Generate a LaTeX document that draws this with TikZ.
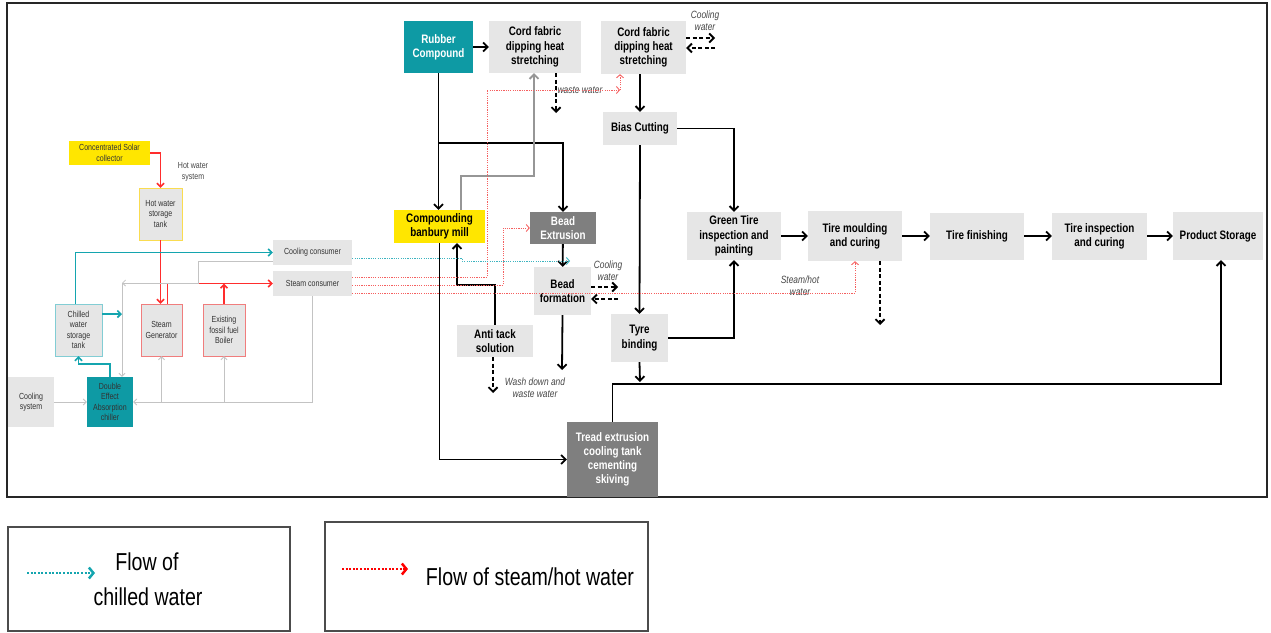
\documentclass[tikz,border=0pt]{standalone}
\usepackage{fontspec}
\setmainfont[FakeStretch=0.8]{Liberation Sans}
\usetikzlibrary{arrows.meta}

\definecolor{boxgray}{RGB}{230,230,230}
\definecolor{darkbox}{RGB}{127,127,127}
\definecolor{tealbox}{RGB}{14,154,164}
\definecolor{solaryellow}{RGB}{255,230,0}
\definecolor{chillteal}{RGB}{20,165,175}
\definecolor{hotred}{RGB}{255,45,45}
\definecolor{dotred}{RGB}{245,95,95}
\definecolor{dotteal}{RGB}{60,180,192}
\definecolor{pipegray}{RGB}{195,195,195}
\definecolor{feedgray}{RGB}{150,150,150}
\definecolor{notegray}{RGB}{70,70,70}
\definecolor{tankteal}{RGB}{130,205,212}
\definecolor{tankred}{RGB}{240,125,125}
\definecolor{tankyellow}{RGB}{250,220,80}

\newcommand{\procfont}{\fontsize{12.3}{14.2}\selectfont\bfseries}
\newcommand{\plantfont}{\fontsize{8.8}{10.5}\selectfont}
\newcommand{\notefont}{\fontsize{10.5}{12}\selectfont\itshape}
\newcommand{\legfont}{\fontsize{24.5}{34}\selectfont}

\begin{document}
\begin{tikzpicture}[x=1pt,y=-1pt,
    >={Straight Barb[length=4.5pt,width=9pt]},
    sz/.style 2 args={minimum width=#1pt,minimum height=#2pt},
    proc/.style={rectangle,fill=boxgray,align=center,inner sep=1pt,font=\procfont},
    plant/.style={rectangle,fill=boxgray,align=center,inner sep=1pt,font=\plantfont,text=black!80},
    note/.style={align=center,inner sep=0pt,font=\notefont,text=notegray},
    flow/.style={->,line width=1.8pt,black},
    drain/.style={->,line width=1.8pt,black,dash pattern=on 4pt off 2.5pt},
    feed/.style={->,line width=1.8pt,feedgray},
    hot/.style={->,line width=1.6pt,hotred,>={Straight Barb[length=3.5pt,width=7pt]}},
    chill/.style={->,line width=1.6pt,chillteal,>={Straight Barb[length=3.5pt,width=7pt]}},
    pipe/.style={->,line width=0.8pt,pipegray,>={Straight Barb[length=3pt,width=6pt]}},
    steamdot/.style={->,line width=0.9pt,dotred,dash pattern=on 1.2pt off 1.1pt,>={Straight Barb[length=3pt,width=7pt]}},
    chilldot/.style={->,line width=0.9pt,dotteal,dash pattern=on 1.2pt off 1.1pt,>={Straight Barb[length=3pt,width=7pt]}},
    legbox/.style={draw=black!70,line width=2.5pt,inner sep=0pt},
    legtext/.style={inner sep=0pt,font=\legfont},
    legarrow/.style={->,line width=2.5pt,dash pattern=on 2pt off 1.6pt,>={Straight Barb[length=4.5pt,width=11pt]}}]

  \useasboundingbox (0,0) rectangle (1271,632);
  \draw[line width=2.5pt,black!85] (7,3) rectangle (1267,497);

  % process line
  \begin{scope}[every node/.style={proc}]
    \node[fill=tealbox,text=white,sz={69}{52}] (rubber) at (438.5,47) {Rubber\\Compound};
    \node[sz={92}{52}] (cordA) at (535,47) {Cord fabric\\dipping heat\\stretching};
    \node[sz={85}{53}] (cordB) at (643.5,47.5) {Cord fabric\\dipping heat\\stretching};
    \node[sz={74}{33}] (bias) at (640,128.5) {Bias Cutting};
    \node[fill=solaryellow,sz={91}{33}] (comp) at (439.5,226.5) {Compounding\\banbury mill};
    \node[fill=darkbox,text=white,sz={66}{32}] (beadext) at (563,228) {Bead\\Extrusion};
    \node[sz={57}{48}] (beadform) at (562.5,291) {Bead\\formation};
    \node[sz={76}{32}] (anti) at (495,341) {Anti tack\\solution};
    \node[sz={57}{48}] (tyre) at (639.5,338) {Tyre\\binding};
    \node[fill=darkbox,text=white,sz={91}{75}] (tread) at (612.5,459.5) {Tread extrusion\\cooling tank\\cementing\\skiving};
    \node[sz={94}{48}] (green) at (734,236) {Green Tire\\inspection and\\painting};
    \node[sz={94}{50}] (mould) at (855,236) {Tire moulding\\and curing};
    \node[sz={94}{47}] (finish) at (977,236) {Tire finishing};
    \node[sz={95}{47}] (inspect) at (1099.5,236) {Tire inspection\\and curing};
    \node[sz={90}{48}] (store) at (1218,236) {Product Storage};
  \end{scope}

  % utility plant
  \begin{scope}[every node/.style={plant}]
    \node[fill=solaryellow,sz={81}{24}] (solar) at (109.5,153) {Concentrated Solar\\collector};
    \node[draw=tankyellow,sz={43}{52}] (hwtank) at (160.5,214) {Hot water\\storage\\tank};
    \node[sz={79}{25}] (coolcons) at (312.5,252.5) {Cooling consumer};
    \node[sz={79}{25}] (steamcons) at (312.5,283.5) {Steam consumer};
    \node[draw=tankteal,sz={47}{52}] (chtank) at (78.5,330) {Chilled\\water\\storage\\tank};
    \node[draw=tankred,sz={41}{52}] (steamgen) at (161.5,330) {Steam\\Generator};
    \node[draw=tankred,sz={42}{52}] (boiler) at (224,330) {Existing\\fossil fuel\\Boiler};
    \node[sz={46}{50}] (coolsys) at (31,402) {Cooling\\system};
    \node[fill=tealbox,sz={46}{50}] (chiller) at (110,402) {Double\\Effect\\Absorption\\chiller};
  \end{scope}

  % labels
  \begin{scope}[every node/.style={note}]
    \node (cwlabA) at (705,21) {Cooling\\water};
    \node (wastelab) at (580,90) {waste water};
    \node (cwlabB) at (608,271) {Cooling\\water};
    \node (washlab) at (535,388) {Wash down and\\waste water};
    \node (steamlab) at (800,286) {Steam/hot\\water};
  \end{scope}
  \node[align=center,inner sep=0pt,font=\plantfont,text=notegray] (hwlab) at (193,172) {Hot water\\system};

  \coordinate (j1) at (439,143);
  \coordinate (j2) at (457,285);
  \coordinate (j3) at (1221,384);
  \coordinate (j4a) at (461,176);
  \coordinate (j4) at (534,176);
  \coordinate (washend) at (562,370);
  \coordinate (tyreend) at (640,382);
  \coordinate (wasteend) at (556,113);
  \coordinate (antiend) at (493,393);
  \coordinate (mouldend) at (880,325);
  \coordinate (cwA1) at (715,38);
  \coordinate (cwA2) at (715,48);
  \coordinate (cwB1) at (618,287);
  \coordinate (cwB2) at (618,299);
  \coordinate (s1) at (487,90);
  \coordinate (s1b) at (620,90);
  \coordinate (s2) at (503,228);
  \coordinate (c1) at (462,261);
  \coordinate (c1end) at (570,261);
  \coordinate (c2) at (122,314);
  \coordinate (c3) at (78.5,364);
  \coordinate (g1) at (198,283);
  \coordinate (g2) at (122,283);

  % main flow
  \draw[flow] (rubber) -- (cordA);
  \draw[flow] (bias.north |- cordB.south) -- (bias.north);
  \draw[flow] (rubber.south) -- (rubber.south |- comp.north);
  \draw[flow] (j1) -| (beadext.north);
  \draw[flow] (comp.south) |- (tread.west);
  \draw[flow] (anti.north) |- (j2) -- (j2 |- comp.south);
  \draw[flow] (beadext) -- (beadform);
  \draw[flow] (beadform.south) -- (washend);
  \draw[flow] (bias.south) -- (tyre.north);
  \draw[flow] (bias.east) -| (green.north);
  \draw[flow] (tyre.east) -| (green.south);
  \draw[flow] (green) -- (mould);
  \draw[flow] (mould) -- (finish);
  \draw[flow] (finish) -- (inspect);
  \draw[flow] (inspect) -- (store);
  \draw[flow] (tyre.south) -- (tyreend);
  \draw[flow] (tread.north) |- (j3) -- (j3 |- store.south);
  \draw[feed] (j4a |- comp.north) |- (j4) -- (j4 |- cordA.south);

  % discharges
  \draw[drain] (wasteend |- cordA.south) -- (wasteend);
  \draw[drain] (cordB.east |- cwA1) -- (cwA1);
  \draw[drain] (cwA2) -- (cordB.east |- cwA2);
  \draw[drain] (beadform.east |- cwB1) -- (cwB1);
  \draw[drain] (cwB2) -- (beadform.east |- cwB2);
  \draw[drain] (antiend |- anti.south) -- (antiend);
  \draw[drain] (mouldend |- mould.south) -- (mouldend);

  % steam / chilled water supply
  \draw[steamdot] ([yshift=6.5pt]steamcons.east) -| (s1) -- (s1b);
  \draw[steamdot] (s1b) -- (s1b |- cordB.south);
  \draw[steamdot] ([yshift=-1.5pt]steamcons.east) -| (s2) -- (beadext.west);
  \draw[steamdot] ([yshift=-9.5pt]steamcons.east) -| (mould.south);
  \draw[chilldot] ([yshift=-5.5pt]coolcons.east) -| (c1) -- (c1end);

  % plant
  \draw[hot] (solar) -| (hwtank);
  \draw[hot] (hwtank.south) -- (hwtank.south |- steamgen.north);
  \draw[hot] ([xshift=6pt]steamgen.north) |- (steamcons.west);
  \draw[hot] (boiler.north) -- (boiler.north |- steamcons.west);
  \draw[chill] ([xshift=-3pt]chtank.north) |- (coolcons.west);
  \draw[chill] ([yshift=16pt]chtank.east) -- (c2);
  \draw[chill] (chiller.north) |- (c3) -- (chtank.south);
  \draw[pipe] ([yshift=-9pt]coolcons.west) -| (g1) -- (g2);
  \draw[pipe] (g2) -- (g2 |- chiller.north);
  \draw[pipe] (steamcons.south) |- (chiller.east);
  \draw[pipe] (steamgen.south |- chiller.east) -- (steamgen.south);
  \draw[pipe] (boiler.south |- chiller.east) -- (boiler.south);
  \draw[pipe] (coolsys) -- (chiller);

  % legend
  \node[legbox,sz={282}{104}] (legA) at (149,579) {};
  \node[legbox,sz={323}{109}] (legB) at (486.5,576.5) {};
  \node[legtext] (legAtop) at (147,562) {Flow of};
  \node[legtext] (legAbot) at (148,597) {chilled water};
  \node[legtext] (legBtxt) at (530,577) {Flow of steam/hot water};
  \coordinate (la1) at (27,573);
  \coordinate (la2) at (95,573);
  \coordinate (lb1) at (342,569);
  \coordinate (lb2) at (408,569);
  \draw[legarrow,chillteal] (la1) -- (la2);
  \draw[legarrow,red] (lb1) -- (lb2);

\end{tikzpicture}
\end{document}
